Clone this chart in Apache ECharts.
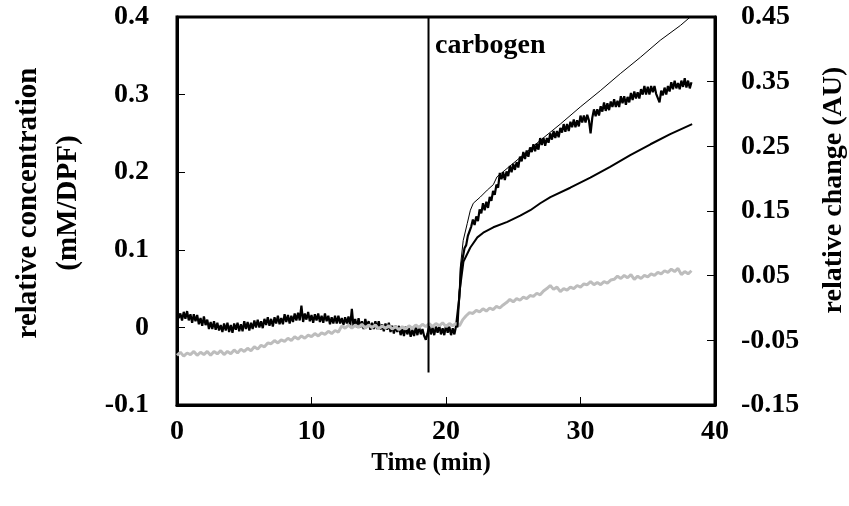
<!DOCTYPE html>
<html>
<head>
<meta charset="utf-8">
<script src="https://cdn.jsdelivr.net/npm/echarts@6/dist/echarts.min.js"></script>
<style>html,body{margin:0;padding:0;background:#fff}#c{width:849px;height:506px}</style>
</head>
<body>
<div id="c"></div>
<script>
// sampling times (min) of the black trace
const blackTimes = [
0,0.125,0.25,0.375,0.5,0.625,0.75,0.875, 1,1.125,1.25,1.375,1.5,1.625,1.75,1.875,
2,2.125,2.25,2.375,2.5,2.625,2.75,2.875, 3,3.125,3.25,3.375,3.5,3.625,3.75,3.875,
4,4.125,4.25,4.375,4.5,4.625,4.75,4.875, 5,5.125,5.25,5.375,5.5,5.625,5.75,5.875,
6,6.125,6.25,6.375,6.5,6.625,6.75,6.875, 7,7.125,7.25,7.375,7.5,7.625,7.75,7.875,
8,8.125,8.25,8.375,8.5,8.625,8.75,8.875, 9,9.125,9.25,9.375,9.5,9.625,9.75,9.875,
10,10.125,10.25,10.375,10.5,10.625,10.75,10.875, 11,11.125,11.25,11.375,11.5,11.625,11.75,11.875,
12,12.125,12.25,12.375,12.5,12.625,12.75,12.875, 13,13.125,13.25,13.375,13.5,13.625,13.75,13.875,
14,14.125,14.25,14.375,14.5,14.625,14.75,14.875, 15,15.125,15.25,15.375,15.5,15.625,15.75,15.875,
16,16.125,16.25,16.375,16.5,16.625,16.75,16.875, 17,17.125,17.25,17.375,17.5,17.625,17.75,17.875,
18,18.125,18.25,18.375,18.5,18.625,18.75,18.875, 19,19.125,19.25,19.375,19.5,19.625,19.75,19.875,
20,20.125,20.25,20.375,20.5,20.625,20.75,20.875, 21,21.125,21.25,21.375,21.5,21.625,21.75,21.875,
22,22.125,22.25,22.375,22.5,22.625,22.75,22.875, 23,23.125,23.25,23.375,23.5,23.625,23.75,23.875,
24,24.125,24.25,24.375,24.5,24.625,24.75,24.875, 25,25.125,25.25,25.375,25.5,25.625,25.75,25.875,
26,26.125,26.25,26.375,26.5,26.625,26.75,26.875, 27,27.125,27.25,27.375,27.5,27.625,27.75,27.875,
28,28.125,28.25,28.375,28.5,28.625,28.75,28.875, 29,29.125,29.25,29.375,29.5,29.625,29.75,29.875,
30,30.125,30.25,30.375,30.5,30.625,30.75,30.875, 31,31.125,31.25,31.375,31.5,31.625,31.75,31.875,
32,32.125,32.25,32.375,32.5,32.625,32.75,32.875, 33,33.125,33.25,33.375,33.5,33.625,33.75,33.875,
34,34.125,34.25,34.375,34.5,34.625,34.75,34.875, 35,35.125,35.25,35.375,35.5,35.625,35.75,35.875,
36,36.125,36.25,36.375,36.5,36.625,36.75,36.875, 37,37.125,37.25,37.375,37.5,37.625,37.75,37.875,
38,38.125,38.25];

// black noisy trace (relative concentration, mM/DPF)
const blackTrace = [
0.022,0.012,0.018,0.009,0.020,0.011,0.021,0.009, 0.017,0.006,0.017,0.008,0.016,0.004,0.012,0.002,
0.014,0.003,0.010,-0.002,0.007,-0.002,0.008,-0.003, 0.006,-0.004,0.003,-0.006,0.005,-0.004,0.006,-0.006,
0.003,-0.007,0.005,-0.003,0.006,-0.005,0.004,-0.005, 0.008,-0.002,0.007,-0.004,0.006,-0.002,0.009,0.000,
0.010,0.000,0.008,-0.001,0.011,0.003,0.013,0.002, 0.011,0.001,0.013,0.005,0.015,0.004,0.012,0.004,
0.017,0.007,0.016,0.005,0.015,0.007,0.018,0.009, 0.019,0.009,0.028,0.007,0.018,0.010,0.020,0.008,
0.016,0.006,0.017,0.009,0.018,0.007,0.015,0.006, 0.018,0.008,0.015,0.004,0.013,0.005,0.015,0.005,
0.015,0.005,0.012,0.003,0.013,0.005,0.014,0.002, 0.024,0.001,0.011,0.000,0.012,0.000,0.008,-0.002,
0.011,0.001,0.008,-0.003,0.006,-0.002,0.008,-0.002, 0.008,-0.003,0.004,-0.005,0.005,-0.003,0.006,-0.006,
0.002,-0.008,0.002,-0.006,0.002,-0.010,-0.002,-0.011, 0.001,-0.009,-0.001,-0.012,-0.003,-0.011,0.000,-0.010,
0.001,-0.009,-0.002,-0.011,-0.016,-0.008,0.002,-0.009, 0.000,-0.010,0.001,-0.007,0.002,-0.009,-0.001,-0.010,
0.003,-0.007,0.001,-0.010,-0.001,-0.009,0.002,0.004, 0.040,0.078,0.090,0.102,0.106,0.118,0.117,0.130,
0.139,0.132,0.143,0.137,0.152,0.147,0.160,0.151, 0.162,0.154,0.168,0.163,0.176,0.171,0.184,0.180,
0.199,0.191,0.200,0.190,0.201,0.195,0.208,0.200, 0.211,0.203,0.213,0.206,0.220,0.214,0.226,0.217,
0.228,0.220,0.232,0.226,0.236,0.227,0.237,0.229, 0.244,0.235,0.244,0.234,0.244,0.238,0.250,0.242,
0.253,0.244,0.253,0.245,0.257,0.251,0.262,0.252, 0.262,0.253,0.265,0.258,0.268,0.258,0.267,0.259,
0.273,0.264,0.273,0.264,0.274,0.267,0.250,0.270, 0.281,0.272,0.281,0.273,0.285,0.278,0.290,0.279,
0.289,0.280,0.291,0.284,0.294,0.284,0.292,0.284, 0.298,0.289,0.298,0.287,0.297,0.290,0.302,0.293,
0.304,0.295,0.303,0.295,0.307,0.300,0.311,0.300, 0.310,0.300,0.311,0.303,0.311,0.301,0.300,0.290,
0.305,0.299,0.309,0.300,0.311,0.304,0.316,0.307, 0.318,0.308,0.315,0.307,0.318,0.310,0.321,0.309,
0.318,0.308,0.316];

// sampling times (min) of the grey trace
const greyTimes = [0,0.25,0.5,0.75,1,1.25,1.5,1.75,2,2.25,2.5,2.75,3,3.25,3.5,3.75,4,4.25,4.5,4.75,5,5.25,5.5,5.75,6,6.25,6.5,6.75,7,7.25,7.5,7.75,8,8.25,8.5,8.75,9,9.25,9.5,9.75,10,10.25,10.5,10.75,11,11.25,11.5,11.75,12,12.25,12.5,12.75,13,13.25,13.5,13.75,14,14.25,14.5,14.75,15,15.25,15.5,15.75,16,16.25,16.5,16.75,17,17.25,17.5,17.75,18,18.25,18.5,18.75,19,19.25,19.5,19.75,20,20.25,20.5,20.75,21,21.25,21.5,21.75,22,22.25,22.5,22.75,23,23.25,23.5,23.75,24,24.25,24.5,24.75,25,25.25,25.5,25.75,26,26.25,26.5,26.75,27,27.25,27.5,27.75,28,28.25,28.5,28.75,29,29.25,29.5,29.75,30,30.25,30.5,30.75,31,31.25,31.5,31.75,32,32.25,32.5,32.75,33,33.25,33.5,33.75,34,34.25,34.5,34.75,35,35.25,35.5,35.75,36,36.25,36.5,36.75,37,37.25,37.5,37.75,38,38.25];

// grey noisy trace
const greyTrace = [
-0.036,-0.032,-0.037,-0.033, -0.035,-0.031,-0.036,-0.032, -0.035,-0.031,-0.036,-0.031, -0.034,-0.030,-0.035,-0.031,
-0.034,-0.029,-0.033,-0.028, -0.031,-0.027,-0.030,-0.025, -0.028,-0.023,-0.025,-0.020, -0.021,-0.017,-0.020,-0.016,
-0.018,-0.014,-0.017,-0.012, -0.015,-0.011,-0.014,-0.010, -0.012,-0.008,-0.011,-0.007, -0.009,-0.005,-0.008,-0.004,
-0.006,0.002,-0.001,0.003, -0.001,0.003,0.000,0.004, -0.001,0.003,0.000,0.003, -0.002,0.002,-0.001,0.002,
-0.002,0.001,-0.003,0.001, -0.002,0.002,-0.001,0.003, 0.000,0.004,0.001,0.005, 0.001,0.005,0.002,0.006,
0.001,0.005,0.002,0.005, 0.002,0.010,0.015,0.019, 0.018,0.022,0.020,0.024, 0.021,0.025,0.023,0.027,
0.025,0.029,0.032,0.036, 0.033,0.037,0.035,0.039, 0.037,0.041,0.040,0.044, 0.042,0.047,0.050,0.054,
0.049,0.052,0.046,0.050, 0.048,0.052,0.050,0.054, 0.052,0.056,0.055,0.059, 0.055,0.058,0.055,0.059,
0.057,0.061,0.062,0.066, 0.063,0.067,0.064,0.068, 0.062,0.066,0.063,0.067, 0.065,0.069,0.067,0.071,
0.069,0.073,0.071,0.075, 0.072,0.076,0.068,0.072, 0.069,0.073];

// smooth fitted curves: [time, value]
const upperFit = [[20.85,0.0],[21.0,0.05],[21.06,0.077],[21.28,0.112],[21.58,0.134],[21.81,0.151],[22.03,0.16],[22.55,0.168],[23.07,0.177],[23.52,0.184],[23.79,0.194],[25.52,0.219],[27.01,0.241],[28.5,0.262],[29.98,0.284],[31.47,0.305],[32.96,0.327],[34.45,0.348],[35.93,0.37],[37.42,0.389],[38.16,0.4],[38.3,0.402]];
const lowerFit = [[20.85,0.0],[21.0,0.045],[21.3,0.085],[21.81,0.103],[22.33,0.116],[22.77,0.122],[23.52,0.129],[24.56,0.136],[25.52,0.144],[26.27,0.151],[27.01,0.16],[27.76,0.168],[29.24,0.18],[30.73,0.193],[32.2,0.207],[33.7,0.222],[35.2,0.236],[36.67,0.249],[38.3,0.262]];

// carbogen onset marker
const carbogenLine = [[18.7,-0.058],[18.7,0.4]];
const carbogenLabel = [[19.15,0.363]];

const xTicks = [0,10,20,30,40];

const FONT = '"Liberation Serif","Times New Roman",serif';
const tick = {fontFamily: FONT, fontWeight: 'bold', fontSize: 28, color: '#000'};
const title = {fontFamily: FONT, fontWeight: 'bold', fontSize: 26, color: '#000'};

const zip = (t, v) => t.map((x, i) => [x, v[i]]);

const chart = echarts.init(document.getElementById('c'), null, {renderer: 'canvas'});
chart.setOption({
  animation: false,
  backgroundColor: '#fff',
  grid: {left: 177, right: 134, top: 17, bottom: 101, show: true, borderColor: '#000', borderWidth: 3,
         backgroundColor: 'transparent', containLabel: false, outerBoundsMode: 'none'},
  xAxis: {
    type: 'value', min: xTicks[0], max: xTicks[xTicks.length - 1], interval: 10,
    name: 'Time (min)', nameLocation: 'middle', nameGap: 45,
    nameTextStyle: Object.assign({padding: [0, 30, 0, 0]}, title, {fontSize: 25}),
    axisLine: {show: true, onZero: false, lineStyle: {color: '#000', width: 3}},
    axisTick: {show: true, inside: true, length: 8, lineStyle: {color: '#000', width: 1}},
    axisLabel: Object.assign({margin: 13}, tick),
    splitLine: {show: false}
  },
  yAxis: [{
    type: 'value', min: -0.1, max: 0.4, interval: 0.1, position: 'left',
    name: 'relative concentration\n(mM/DPF)', nameLocation: 'middle', nameGap: 88, nameRotate: 90,
    nameTextStyle: Object.assign({lineHeight: 40, padding: [0, 0, 0, 16]}, title, {fontSize: 29}),
    axisLine: {show: true, onZero: false, lineStyle: {color: '#000', width: 3}},
    axisTick: {show: true, inside: true, length: 8, lineStyle: {color: '#000', width: 1}},
    axisLabel: Object.assign({margin: 28, padding: [6, 0, 0, 0], formatter: v => Math.abs(v) < 1e-9 ? '0' : v.toFixed(1)}, tick),
    splitLine: {show: false}
  }, {
    type: 'value', min: -0.15, max: 0.45, interval: 0.1, position: 'right',
    name: 'relative change (AU)', nameLocation: 'middle', nameGap: 105, nameRotate: 90,
    nameTextStyle: Object.assign({padding: [0, 0, 0, 42]}, title, {fontSize: 28}),
    axisLine: {show: true, onZero: false, lineStyle: {color: '#000', width: 3}},
    axisTick: {show: true, inside: true, length: 8, lineStyle: {color: '#000', width: 1}},
    axisLabel: Object.assign({margin: 26, padding: [6, 0, 0, 0], formatter: v => v.toFixed(2)}, tick),
    splitLine: {show: false}
  }],
  series: [
    {type: 'line', name: 'trace', data: zip(blackTimes, blackTrace), showSymbol: false, symbol: 'none',
     lineStyle: {color: '#000', width: 2.2}, z: 3},
    {type: 'line', name: 'grey', data: zip(greyTimes, greyTrace), showSymbol: false, symbol: 'none',
     lineStyle: {color: '#bdbdbd', width: 3}, z: 4},
    {type: 'line', name: 'fit1', data: upperFit, showSymbol: false, symbol: 'none',
     lineStyle: {color: '#000', width: 1}, z: 5},
    {type: 'line', name: 'fit2', data: lowerFit, showSymbol: false, symbol: 'none',
     lineStyle: {color: '#000', width: 2}, z: 5},
    {type: 'line', name: 'carbogen', data: carbogenLine, showSymbol: false, symbol: 'none',
     lineStyle: {color: '#000', width: 2}, z: 6},
    {type: 'scatter', name: 'carbogenLabel', data: carbogenLabel, symbolSize: 1, silent: true,
     itemStyle: {color: '#fff', opacity: 1},
     label: {show: true, position: 'right', distance: 0, formatter: 'carbogen', fontFamily: FONT, fontWeight: 'bold', fontSize: 28, color: '#000', opacity: 1}, z: 7}
  ]
});
</script>
</body>
</html>
